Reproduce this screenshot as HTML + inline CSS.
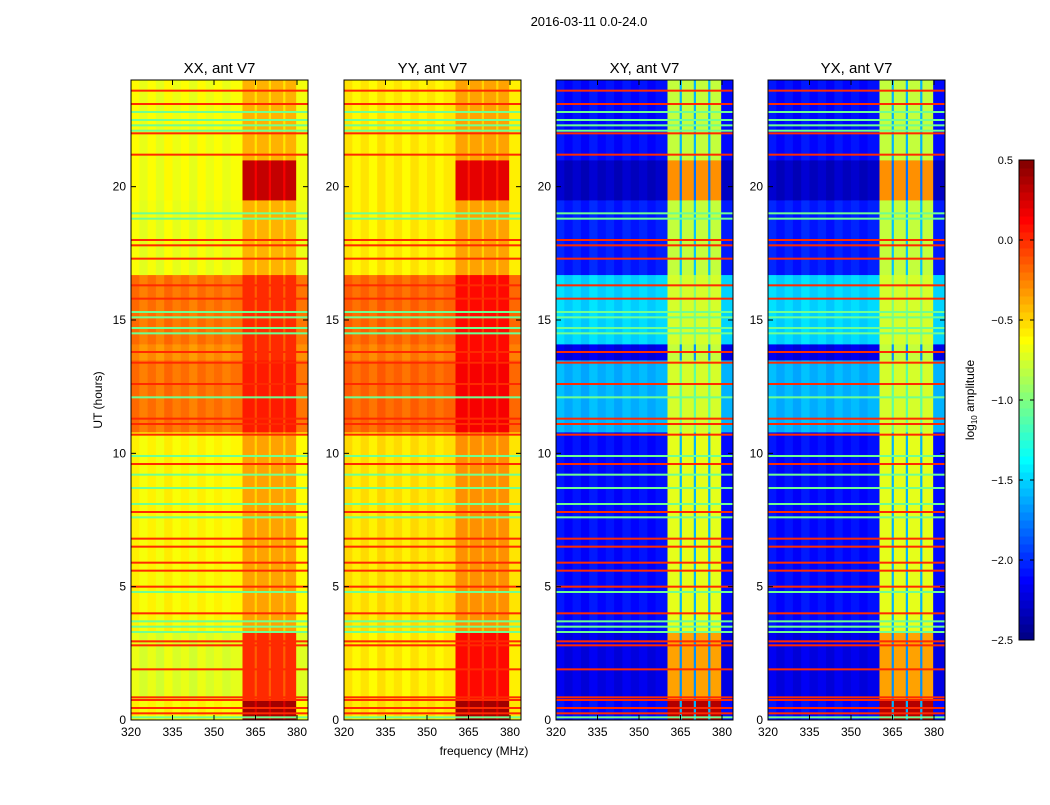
<!DOCTYPE html>
<html><head><meta charset="utf-8"><style>
body{margin:0;background:#fff;}
svg text{font-family:"Liberation Sans","DejaVu Sans",sans-serif;fill:#000;}
</style></head><body>
<svg id="fig" width="1050" height="800" xmlns="http://www.w3.org/2000/svg">
<rect width="1050" height="800" fill="#fff"/>
<text x="589" y="26" font-size="13" text-anchor="middle">2016-03-11 0.0-24.0</text>
<text x="484" y="755" font-size="12" text-anchor="middle">frequency (MHz)</text>
<text x="102" y="400" font-size="12" text-anchor="middle" transform="rotate(-90 102 400)">UT (hours)</text>
<g id="panels"></g>
<g id="cbar"></g>
<text x="974" y="400" font-size="12" text-anchor="middle" transform="rotate(-90 974 400)">log<tspan font-size="8" dy="3">10</tspan><tspan dy="-3"> amplitude</tspan></text>
</svg>
<script>
const panelTitles=["XX, ant V7","YY, ant V7","XY, ant V7","YX, ant V7"];
const panelX=[131,344,556,768];
const bandEdges=[0,0.8,3.3,10.8,13.5,14.1,16.7,19.5,21,24];
const bgXX=[-0.62,-0.72,-0.62,-0.22,-0.3,-0.22,-0.68,-0.66,-0.66];
const onXX=[0.4,0.0,-0.35,0.05,0.0,0.0,-0.4,0.3,-0.4];
const bgYY=[-0.55,-0.58,-0.55,-0.18,-0.25,-0.18,-0.58,-0.58,-0.58];
const onYY=[0.4,0.1,-0.3,0.15,0.1,0.1,-0.35,0.2,-0.35];
const bgXY=[-2.1,-2.2,-2.1,-1.6,-2.2,-1.5,-2.05,-2.3,-2.1];
const onXY=[0.35,-0.35,-0.7,-0.75,-0.8,-0.75,-0.8,-0.3,-0.8];
const bgYX=[-2.1,-2.2,-2.1,-1.6,-2.2,-1.5,-2.05,-2.3,-2.1];
const onYX=[0.35,-0.35,-0.7,-0.75,-0.8,-0.75,-0.8,-0.3,-0.8];
const freqEdges=[320,323,326,329,332,335,338,341,344,347,350,353,356,360.3,364.7,365.5,369.8,370.6,375,375.8,379.7,384];
const colType=["b","b","b","b","b","b","b","b","b","b","b","b","b","o","g","o","g","o","g","o","b"];
const bgStripe=[0.04,-0.03,0.03,-0.04,0.05,-0.02,0.03,-0.04,0.04,-0.02,0.03,-0.03,0.02,0,0,0,0,0,0,0,0.0];
const redLines=[0.25,0.45,0.75,0.85,1.9,2.8,2.95,4.0,5.0,5.6,5.9,6.5,6.8,7.8,9.6,10.7,11.1,11.3,12.6,13.4,13.8,15.8,16.3,17.3,17.8,18.0,21.2,22.0,23.1,23.6];
const greenLines=[0.1,3.3,3.5,3.7,4.8,7.6,8.1,8.7,9.2,9.9,12.1,14.5,14.7,15.1,15.3,18.8,19.0,22.1,22.3,22.5,22.8];
const yTicks=[0,5,10,15,20];
const xTicks=[320,335,350,365,380];
const cbTicks=[-2.5,-2.0,-1.5,-1.0,-0.5,0.0,0.5];
const bgs=[bgXX,bgYY,bgXY,bgYX], ons=[onXX,onYY,onXY,onYX];
const NS="http://www.w3.org/2000/svg";
const PW=177, Y0=720, Y1=80, VMIN=-2.5, VMAX=0.5;
function yS(h){return Y0-(h/24)*(Y0-Y1);}
function xS(x0,f){return x0+(f-320)*(166/60);}
function jet(v){let t=(v-VMIN)/(VMAX-VMIN);t=Math.max(0,Math.min(1,t));
 const c=a=>Math.round(255*Math.max(0,Math.min(1,1.5-Math.abs(a))));
 return `rgb(${c(4*t-3)},${c(4*t-2)},${c(4*t-1)})`;}
function mk(tag,at,par){const e=document.createElementNS(NS,tag);for(const k in at)e.setAttribute(k,at[k]);par.appendChild(e);return e;}
const P=document.getElementById("panels");
panelX.forEach((x0,p)=>{
 const g=mk("g",{},P);
 
 
 const cross=p>=2;
 for(let b=0;b<bandEdges.length-1;b++){
  for(let c=0;c<colType.length;c++){
   let v;
   if(colType[c]==="b")v=bgs[p][b]+bgStripe[c];
   else if(colType[c]==="o")v=ons[p][b];
   else v=cross?bgs[p][b]+0.5:ons[p][b]-0.15;
   const xa=xS(x0,freqEdges[c]),xb=xS(x0,freqEdges[c+1]);
   const r=mk("rect",{x:xa,y:yS(bandEdges[b+1]),width:xb-xa+0.4,height:yS(bandEdges[b])-yS(bandEdges[b+1])+0.4,fill:jet(v)},g);
   
   
  }
 }
 redLines.forEach(h=>{const l=mk("rect",{x:x0,y:yS(h)-1,width:PW,height:2,fill:jet(0.0)},g);
  
  });
 greenLines.forEach(h=>{const l=mk("rect",{x:x0,y:yS(h)-1,width:PW,height:2,fill:jet(-1.05)},g);
  
  });
 const fr=mk("rect",{x:x0,y:Y1,width:PW,height:Y0-Y1,fill:"none",stroke:"#000","stroke-width":1},g);
 
 
 const t=mk("text",{x:x0+PW/2,y:73,"font-size":15,"text-anchor":"middle"},g);t.textContent=panelTitles[p];
 
 
 yTicks.forEach(h=>{const y=yS(h);
  mk("line",{x1:x0,x2:x0+5,y1:y,y2:y,stroke:"#000"},g);mk("line",{x1:x0+PW,x2:x0+PW-5,y1:y,y2:y,stroke:"#000"},g);
  const tl=mk("text",{x:x0-5,y:y+4,"font-size":12,"text-anchor":"end"},g);tl.textContent=h;
  
  });
 xTicks.forEach(f=>{const x=xS(x0,f);
  mk("line",{x1:x,x2:x,y1:Y0,y2:Y0-5,stroke:"#000"},g);mk("line",{x1:x,x2:x,y1:Y1,y2:Y1+5,stroke:"#000"},g);
  const tl=mk("text",{x:x,y:736,"font-size":12,"text-anchor":"middle"},g);tl.textContent=f;
  
  });
});
const C=document.getElementById("cbar");
const CB0=640,CB1=160,CX=1019,CW=15,N=60;
function cy(v){return CB0-(v-VMIN)/(VMAX-VMIN)*(CB0-CB1);}
for(let i=0;i<N;i++){const v0=VMIN+(VMAX-VMIN)*i/N,v1=VMIN+(VMAX-VMIN)*(i+1)/N;
 const r=mk("rect",{x:CX,y:cy(v1),width:CW,height:cy(v0)-cy(v1)+0.5,fill:jet((v0+v1)/2)},C);
 
 }
mk("rect",{x:CX,y:CB1,width:CW,height:CB0-CB1,fill:"none",stroke:"#000"},C);
cbTicks.forEach(v=>{const y=cy(v);
 mk("line",{x1:CX,x2:CX+4,y1:y,y2:y,stroke:"#000"},C);mk("line",{x1:CX+CW,x2:CX+CW-4,y1:y,y2:y,stroke:"#000"},C);
 const t=mk("text",{x:1013,y:y+4,"font-size":11,"text-anchor":"end"},C);t.textContent=(v<0?"\u2212":"")+Math.abs(v).toFixed(1);
 
 });
</script>
</body></html>
